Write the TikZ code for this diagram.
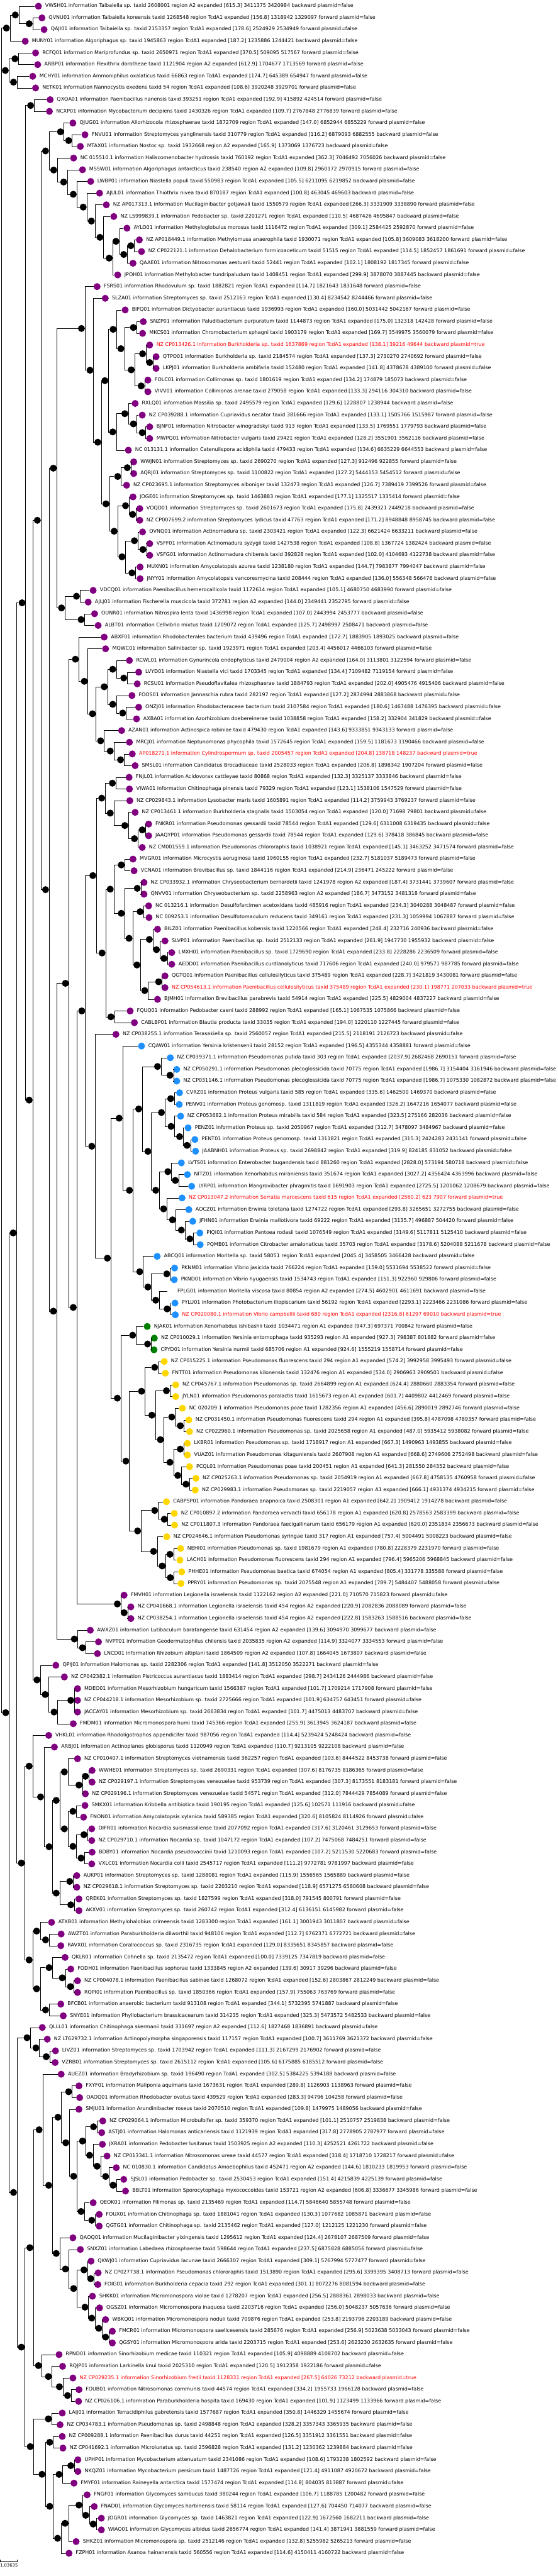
\documentclass[tikz,border=0pt]{standalone}
\usepackage{fontspec}
\setmainfont{DejaVu Sans}
\definecolor{tippurple}{RGB}{128,0,128}
\definecolor{tipblue}{RGB}{30,144,255}
\definecolor{tipgreen}{RGB}{0,128,0}
\definecolor{tipgold}{RGB}{255,215,0}
\definecolor{plasmidred}{RGB}{255,0,0}
% leaf: [label opts]{name}{x}{row}{dot colour}{text}
\newcommand{\leaf}[6][]{%
  \node[leafdot=#5] (#2) at (#3,#4) {};
  \node[leaflabel,#1] (#2t) at (#2.east) {#6};
}
% clade: [dot style]{name}{x}{first child}{last child}
\newcommand{\clade}[5][innerdot]{%
  \path (#4.center) -- coordinate[pos=.5] (#2m) (#5.center);
  \node[#1] (#2) at (#2m -| #3,0) {};
  \draw[branch] (#2.east) |- (#4.west);
  \draw[branch] (#2.east) |- (#5.west);
}

\begin{document}
\begin{tikzpicture}[x=0.05102cm, y=-1.677cm,
    leafdot/.style={circle, inner sep=0pt, minimum size=1cm, draw=none, fill=#1},
    innerdot/.style={circle, inner sep=0pt, minimum size=1cm, draw=none, fill=black},
    hiddendot/.style={circle, inner sep=0pt, minimum size=1cm, draw=none},
    leaflabel/.style={anchor=west, xshift=0.46cm, inner sep=0pt, text height=15pt, text depth=5pt,
      font=\fontsize{20.5pt}{24pt}\selectfont},
    plasmid/.style={text=plasmidred},
    branch/.style={draw=black, line width=1.4pt},
    scalelabel/.style={anchor=west, inner sep=0pt, font=\fontsize{17.6pt}{20pt}\selectfont}]
\useasboundingbox (0,0.4693) rectangle (1568,220.95);

% tips
\leaf{l1}{108}{1}{tippurple}{VWSH01 information Taibaiella sp. taxid 2608001 region A2 expanded [615.3] 3411375 3420984 backward plasmid=false}
\leaf{l2}{118}{2}{tippurple}{QVNU01 information Taibaiella koreensis taxid 1268548 region TcdA1 expanded [156.8] 1318942 1329097 forward plasmid=false}
\leaf{l3}{124}{3}{tippurple}{QAJI01 information Taibaiella sp. taxid 2153357 region TcdA1 expanded [178.6] 2524929 2534949 forward plasmid=false}
\leaf{l4}{71}{4}{tippurple}{MUNY01 information Algoriphagus sp. taxid 1945863 region TcdA1 expanded [187.2] 1235886 1244421 backward plasmid=false}
\leaf{l5}{100}{5}{tippurple}{RCFQ01 information Mariprofundus sp. taxid 2650971 region TcdA1 expanded [370.5] 509095 517567 forward plasmid=false}
\leaf{l6}{106}{6}{tippurple}{ARBP01 information Flexithrix dorotheae taxid 1121904 region A2 expanded [612.9] 1704677 1713569 forward plasmid=false}
\leaf{l7}{92}{7}{tippurple}{MCHY01 information Ammoniphilus oxalaticus taxid 66863 region TcdA1 expanded [174.7] 645389 654947 forward plasmid=false}
\leaf{l8}{100}{8}{tippurple}{NETK01 information Nannocystis exedens taxid 54 region TcdA1 expanded [108.6] 3920248 3929701 forward plasmid=false}
\leaf{l9}{141}{9}{tippurple}{QXQA01 information Paenibacillus nanensis taxid 393251 region TcdA1 expanded [192.9] 415892 424514 forward plasmid=false}
\leaf{l10}{139}{10}{tippurple}{NCXP01 information Mycobacterium decipiens taxid 1430326 region TcdA1 expanded [109.7] 2767848 2776839 forward plasmid=false}
\leaf{l11}{205}{11}{tippurple}{QJUG01 information Allorhizocola rhizosphaerae taxid 1872709 region TcdA1 expanded [147.0] 6852944 6855229 forward plasmid=false}
\leaf{l12}{239}{12}{tippurple}{FNVU01 information Streptomyces yanglinensis taxid 310779 region TcdA1 expanded [116.2] 6879093 6882555 backward plasmid=false}
\leaf{l13}{226}{13}{tippurple}{MTAX01 information Nostoc sp. taxid 1932668 region A2 expanded [165.9] 1373069 1376723 backward plasmid=false}
\leaf{l14}{207}{14}{tippurple}{NC 015510.1 information Haliscomenobacter hydrossis taxid 760192 region TcdA1 expanded [362.3] 7046492 7056026 backward plasmid=false}
\leaf{l15}{232}{15}{tippurple}{MSSW01 information Algoriphagus antarcticus taxid 238540 region A2 expanded [109.8] 2960172 2970915 forward plasmid=false}
\leaf{l16}{255}{16}{tippurple}{LWBP01 information Niastella populi taxid 550983 region TcdA1 expanded [105.5] 6211095 6219852 backward plasmid=false}
\leaf{l17}{280}{17}{tippurple}{AJUL01 information Thiothrix nivea taxid 870187 region TcdA1 expanded [100.8] 463045 469603 backward plasmid=false}
\leaf{l18}{299}{18}{tippurple}{NZ AP017313.1 information Mucilaginibacter gotjawali taxid 1550579 region TcdA1 expanded [266.3] 3331909 3338890 forward plasmid=false}
\leaf{l19}{320}{19}{tippurple}{NZ LS999839.1 information Pedobacter sp. taxid 2201271 region TcdA1 expanded [110.5] 4687426 4695847 backward plasmid=false}
\leaf{l20}{357}{20}{tippurple}{AYLO01 information Methyloglobulus morosus taxid 1116472 region TcdA1 expanded [309.1] 2584425 2592870 forward plasmid=false}
\leaf{l21}{392}{21}{tippurple}{NZ AP018449.1 information Methylomusa anaerophila taxid 1930071 region TcdA1 expanded [105.8] 3609083 3618200 forward plasmid=false}
\leaf{l22}{398}{22}{tippurple}{NZ CP022121.1 information Dehalobacterium formicoaceticum taxid 51515 region TcdA1 expanded [114.5] 1852457 1861691 forward plasmid=false}
\leaf{l23}{374}{23}{tippurple}{QAAE01 information Nitrosomonas aestuarii taxid 52441 region TcdA1 expanded [102.1] 1808192 1817345 forward plasmid=false}
\leaf{l24}{331}{24}{tippurple}{JPOH01 information Methylobacter tundripaludum taxid 1408451 region TcdA1 expanded [299.9] 3878070 3887445 backward plasmid=false}
\leaf{l25}{273}{25}{tippurple}{FSRS01 information Rhodovulum sp. taxid 1882821 region TcdA1 expanded [114.7] 1821643 1831648 forward plasmid=false}
\leaf{l26}{296}{26}{tippurple}{SLZA01 information Streptomyces sp. taxid 2512163 region TcdA1 expanded [130.4] 8234542 8244466 forward plasmid=false}
\leaf{l27}{352}{27}{tippurple}{BIFQ01 information Dictyobacter aurantiacus taxid 1936993 region TcdA1 expanded [160.0] 5031442 5042167 forward plasmid=false}
\leaf{l28}{403}{28}{tippurple}{SNZP01 information Paludibacterium purpuratum taxid 1144873 region TcdA1 expanded [175.0] 132318 142428 forward plasmid=false}
\leaf{l29}{401}{29}{tippurple}{MKCS01 information Chromobacterium sphagni taxid 1903179 region TcdA1 expanded [169.7] 3549975 3560079 forward plasmid=false}
\leaf[plasmid]{l30}{421}{30}{tippurple}{NZ CP013426.1 information Burkholderia sp. taxid 1637869 region TcdA1 expanded [138.1] 39216 49644 backward plasmid=true}
\leaf{l31}{439}{31}{tippurple}{QTPO01 information Burkholderia sp. taxid 2184574 region TcdA1 expanded [137.3] 2730270 2740692 forward plasmid=false}
\leaf{l32}{439}{32}{tippurple}{LKPJ01 information Burkholderia ambifaria taxid 152480 region TcdA1 expanded [141.8] 4378678 4389100 forward plasmid=false}
\leaf{l33}{416}{33}{tippurple}{FOLC01 information Collimonas sp. taxid 1801619 region TcdA1 expanded [134.2] 174879 185073 backward plasmid=false}
\leaf{l34}{416}{34}{tippurple}{VIVV01 information Collimonas arenae taxid 279058 region TcdA1 expanded [133.3] 294116 304310 backward plasmid=false}
\leaf{l35}{380}{35}{tippurple}{RXLQ01 information Massilia sp. taxid 2495579 region TcdA1 expanded [129.6] 1228807 1238944 backward plasmid=false}
\leaf{l36}{400}{36}{tippurple}{NZ CP039288.1 information Cupriavidus necator taxid 381666 region TcdA1 expanded [133.1] 1505766 1515987 forward plasmid=false}
\leaf{l37}{421}{37}{tippurple}{BJNF01 information Nitrobacter winogradskyi taxid 913 region TcdA1 expanded [133.5] 1769551 1779793 backward plasmid=false}
\leaf{l38}{421}{38}{tippurple}{MWPQ01 information Nitrobacter vulgaris taxid 29421 region TcdA1 expanded [128.2] 3551901 3562116 backward plasmid=false}
\leaf{l39}{361}{39}{tippurple}{NC 013131.1 information Catenulispora acidiphila taxid 479433 region TcdA1 expanded [134.6] 6635229 6644553 backward plasmid=false}
\leaf{l40}{376}{40}{tippurple}{WWJN01 information Streptomyces sp. taxid 2690270 region TcdA1 expanded [127.3] 912496 922855 forward plasmid=false}
\leaf{l41}{376}{41}{tippurple}{AQRJ01 information Streptomyces sp. taxid 1100822 region TcdA1 expanded [127.2] 5444153 5454512 forward plasmid=false}
\leaf{l42}{356}{42}{tippurple}{NZ CP023695.1 information Streptomyces alboniger taxid 132473 region TcdA1 expanded [126.7] 7389419 7399526 forward plasmid=false}
\leaf{l43}{374}{43}{tippurple}{JOGE01 information Streptomyces sp. taxid 1463883 region TcdA1 expanded [177.1] 1325517 1335414 forward plasmid=false}
\leaf{l44}{393}{44}{tippurple}{VOQD01 information Streptomyces sp. taxid 2601673 region TcdA1 expanded [175.8] 2439321 2449218 backward plasmid=false}
\leaf{l45}{393}{45}{tippurple}{NZ CP007699.2 information Streptomyces lydicus taxid 47763 region TcdA1 expanded [171.2] 8948848 8958745 backward plasmid=false}
\leaf{l46}{401}{46}{tippurple}{QVNQ01 information Actinomadura sp. taxid 2303421 region TcdA1 expanded [122.3] 6621424 6633211 backward plasmid=false}
\leaf{l47}{421}{47}{tippurple}{VSFF01 information Actinomadura syzygii taxid 1427538 region TcdA1 expanded [108.8] 1367724 1382424 backward plasmid=false}
\leaf{l48}{421}{48}{tippurple}{VSFG01 information Actinomadura chibensis taxid 392828 region TcdA1 expanded [102.0] 4104693 4122738 backward plasmid=false}
\leaf{l49}{394}{49}{tippurple}{MUXN01 information Amycolatopsis azurea taxid 1238180 region TcdA1 expanded [144.7] 7983877 7994047 backward plasmid=false}
\leaf{l50}{394}{50}{tippurple}{JNYY01 information Amycolatopsis vancoresmycina taxid 208444 region TcdA1 expanded [136.0] 556348 566476 backward plasmid=false}
\leaf{l51}{262}{51}{tippurple}{VDCQ01 information Paenibacillus hemerocallicola taxid 1172614 region TcdA1 expanded [105.1] 4680750 4683990 forward plasmid=false}
\leaf{l52}{248}{52}{tippurple}{AJLJ01 information Fischerella muscicola taxid 372781 region A2 expanded [144.0] 2349441 2352795 forward plasmid=false}
\leaf{l53}{266}{53}{tippurple}{OUNR01 information Nitrospira lenta taxid 1436998 region TcdA1 expanded [107.0] 2443994 2453777 backward plasmid=false}
\leaf{l54}{276}{54}{tippurple}{ALBT01 information Cellvibrio mixtus taxid 1209072 region TcdA1 expanded [125.7] 2498997 2508471 backward plasmid=false}
\leaf{l55}{293}{55}{tippurple}{ABXF01 information Rhodobacterales bacterium taxid 439496 region TcdA1 expanded [172.7] 1883905 1893025 backward plasmid=false}
\leaf{l56}{297}{56}{tippurple}{MQWC01 information Salinibacter sp. taxid 1923971 region TcdA1 expanded [203.4] 4456017 4466103 forward plasmid=false}
\leaf{l57}{364}{57}{tippurple}{RCWL01 information Gynurincola endophyticus taxid 2479004 region A2 expanded [164.0] 3113801 3122594 forward plasmid=false}
\leaf{l58}{390}{58}{tippurple}{LVYD01 information Niastella vici taxid 1703345 region TcdA1 expanded [134.4] 7109482 7119154 forward plasmid=false}
\leaf{l59}{386}{59}{tippurple}{RCSU01 information Pseudoflavitalea rhizosphaerae taxid 1884793 region TcdA1 expanded [202.0] 4905476 4915406 backward plasmid=false}
\leaf{l60}{371}{60}{tippurple}{FOOS01 information Jannaschia rubra taxid 282197 region TcdA1 expanded [127.2] 2874994 2883868 backward plasmid=false}
\leaf{l61}{390}{61}{tippurple}{ONZJ01 information Rhodobacteraceae bacterium taxid 2107584 region TcdA1 expanded [180.6] 1467488 1476395 backward plasmid=false}
\leaf{l62}{384}{62}{tippurple}{AXBA01 information Azorhizobium doebereinerae taxid 1038858 region TcdA1 expanded [158.2] 332904 341829 backward plasmid=false}
\leaf{l63}{342}{63}{tippurple}{AZAN01 information Actinospica robiniae taxid 479430 region TcdA1 expanded [143.6] 9333851 9343133 forward plasmid=false}
\leaf{l64}{364}{64}{tippurple}{MRCJ01 information Neptunomonas phycophila taxid 1572645 region TcdA1 expanded [159.5] 1181673 1190466 backward plasmid=false}
\leaf[plasmid]{l65}{372}{65}{tippurple}{AP018271.1 information Cylindrospermum sp. taxid 2005457 region TcdA1 expanded [204.8] 138718 148237 backward plasmid=true}
\leaf{l66}{380}{66}{tippurple}{SMSL01 information Candidatus Brocadiaceae taxid 2528033 region TcdA1 expanded [206.8] 1898342 1907204 forward plasmid=false}
\leaf{l67}{363}{67}{tippurple}{FNJL01 information Acidovorax cattleyae taxid 80868 region TcdA1 expanded [132.3] 3325137 3333846 backward plasmid=false}
\leaf{l68}{364}{68}{tippurple}{VIWA01 information Chitinophaga pinensis taxid 79329 region TcdA1 expanded [123.1] 1538106 1547529 forward plasmid=false}
\leaf{l69}{365}{69}{tippurple}{NZ CP029843.1 information Lysobacter maris taxid 1605891 region TcdA1 expanded [114.2] 3759943 3769237 forward plasmid=false}
\leaf{l70}{380}{70}{tippurple}{NZ CP013461.1 information Burkholderia stagnalis taxid 1503054 region TcdA1 expanded [120.0] 71698 79801 backward plasmid=false}
\leaf{l71}{418}{71}{tippurple}{FNKR01 information Pseudomonas gessardii taxid 78544 region TcdA1 expanded [129.6] 6311008 6319435 backward plasmid=false}
\leaf{l72}{418}{72}{tippurple}{JAAQYP01 information Pseudomonas gessardii taxid 78544 region TcdA1 expanded [129.6] 378418 386845 backward plasmid=false}
\leaf{l73}{400}{73}{tippurple}{NZ CM001559.1 information Pseudomonas chlororaphis taxid 1038921 region TcdA1 expanded [145.1] 3463252 3471574 forward plasmid=false}
\leaf{l74}{374}{74}{tippurple}{MVGR01 information Microcystis aeruginosa taxid 1960155 region TcdA1 expanded [232.7] 5181037 5189473 forward plasmid=false}
\leaf{l75}{377}{75}{tippurple}{VCNA01 information Brevibacillus sp. taxid 1844116 region TcdA1 expanded [214.9] 236471 245222 forward plasmid=false}
\leaf{l76}{405}{76}{tippurple}{NZ CP033932.1 information Chryseobacterium bernardetii taxid 1241978 region A2 expanded [187.4] 3731441 3739607 forward plasmid=false}
\leaf{l77}{405}{77}{tippurple}{QNVV01 information Chryseobacterium sp. taxid 2258963 region A2 expanded [186.7] 3473152 3481318 forward plasmid=false}
\leaf{l78}{418}{78}{tippurple}{NC 013216.1 information Desulfofarcimen acetoxidans taxid 485916 region TcdA1 expanded [234.3] 3040288 3048487 forward plasmid=false}
\leaf{l79}{419}{79}{tippurple}{NC 009253.1 information Desulfotomaculum reducens taxid 349161 region TcdA1 expanded [231.3] 1059994 1067887 forward plasmid=false}
\leaf{l80}{443}{80}{tippurple}{BILZ01 information Paenibacillus kobensis taxid 1220566 region TcdA1 expanded [248.4] 232716 240936 backward plasmid=false}
\leaf{l81}{464}{81}{tippurple}{SLVP01 information Paenibacillus sp. taxid 2512133 region TcdA1 expanded [261.9] 1947730 1955932 backward plasmid=false}
\leaf{l82}{483}{82}{tippurple}{LMXH01 information Paenibacillus sp. taxid 1729690 region TcdA1 expanded [233.8] 2228286 2236509 forward plasmid=false}
\leaf{l83}{483}{83}{tippurple}{AEDD01 information Paenibacillus curdlanolyticus taxid 717606 region TcdA1 expanded [240.0] 979571 987785 forward plasmid=false}
\leaf{l84}{464}{84}{tippurple}{QGTQ01 information Paenibacillus cellulosilyticus taxid 375489 region TcdA1 expanded [228.7] 3421819 3430081 forward plasmid=false}
\leaf[plasmid]{l85}{464}{85}{tippurple}{NZ CP054613.1 information Paenibacillus cellulosilyticus taxid 375489 region TcdA1 expanded [230.1] 198771 207033 backward plasmid=true}
\leaf{l86}{443}{86}{tippurple}{BJMH01 information Brevibacillus parabrevis taxid 54914 region TcdA1 expanded [225.5] 4829004 4837227 backward plasmid=false}
\leaf{l87}{366}{87}{tippurple}{FQUQ01 information Pedobacter caeni taxid 288992 region TcdA1 expanded [165.1] 1067535 1075866 backward plasmid=false}
\leaf{l88}{378}{88}{tippurple}{CABLBP01 information Blautia producta taxid 33035 region TcdA1 expanded [194.0] 1220110 1227445 forward plasmid=false}
\leaf{l89}{326}{89}{tippurple}{NZ CP038255.1 information Terasakiella sp. taxid 2560057 region TcdA1 expanded [215.5] 2118191 2126723 backward plasmid=false}
\leaf{l90}{398}{90}{tipblue}{CQAW01 information Yersinia kristensenii taxid 28152 region TcdA1 expanded [196.5] 4355344 4358881 forward plasmid=false}
\leaf{l91}{479}{91}{tipblue}{NZ CP039371.1 information Pseudomonas putida taxid 303 region TcdA1 expanded [2037.9] 2682468 2690151 forward plasmid=false}
\leaf{l92}{497}{92}{tipblue}{NZ CP050291.1 information Pseudomonas plecoglossicida taxid 70775 region TcdA1 expanded [1986.7] 3154404 3161946 backward plasmid=false}
\leaf{l93}{497}{93}{tipblue}{NZ CP031146.1 information Pseudomonas plecoglossicida taxid 70775 region TcdA1 expanded [1986.7] 1075330 1082872 backward plasmid=false}
\leaf{l94}{505}{94}{tipblue}{CVRZ01 information Proteus vulgaris taxid 585 region TcdA1 expanded [335.6] 1462500 1469370 backward plasmid=false}
\leaf{l95}{504}{95}{tipblue}{PENV01 information Proteus genomosp. taxid 1311819 region TcdA1 expanded [326.2] 1647216 1654077 backward plasmid=false}
\leaf{l96}{508}{96}{tipblue}{NZ CP053682.1 information Proteus mirabilis taxid 584 region TcdA1 expanded [323.5] 275166 282036 backward plasmid=false}
\leaf{l97}{529}{97}{tipblue}{PENZ01 information Proteus sp. taxid 2050967 region TcdA1 expanded [312.7] 3478097 3484967 backward plasmid=false}
\leaf{l98}{548}{98}{tipblue}{PENT01 information Proteus genomosp. taxid 1311821 region TcdA1 expanded [315.3] 2424283 2431141 forward plasmid=false}
\leaf{l99}{550}{99}{tipblue}{JAABNH01 information Proteus sp. taxid 2698842 region TcdA1 expanded [319.9] 824185 831052 backward plasmid=false}
\leaf{l100}{510}{100}{tipblue}{LVTS01 information Enterobacter bugandensis taxid 881260 region TcdA1 expanded [2828.0] 573194 580718 backward plasmid=false}
\leaf{l101}{527}{101}{tipblue}{NITZ01 information Xenorhabdus miraniensis taxid 351674 region TcdA1 expanded [3027.2] 4356424 4363996 backward plasmid=false}
\leaf{l102}{539}{102}{tipblue}{LYRP01 information Mangrovibacter phragmitis taxid 1691903 region TcdA1 expanded [2725.5] 1201062 1208679 backward plasmid=false}
\leaf[plasmid]{l103}{512}{103}{tipblue}{NZ CP013047.2 information Serratia marcescens taxid 615 region TcdA1 expanded [2560.2] 623 7907 forward plasmid=true}
\leaf{l104}{531}{104}{tipblue}{AOCZ01 information Erwinia toletana taxid 1274722 region TcdA1 expanded [293.8] 3265651 3272755 backward plasmid=false}
\leaf{l105}{542}{105}{tipblue}{JFHN01 information Erwinia mallotivora taxid 69222 region TcdA1 expanded [3135.7] 496887 504420 forward plasmid=false}
\leaf{l106}{562}{106}{tipblue}{PIQI01 information Pantoea rodasii taxid 1076549 region TcdA1 expanded [3149.6] 5117811 5125410 backward plasmid=false}
\leaf{l107}{563}{107}{tipblue}{PQMB01 information Citrobacter amalonaticus taxid 35703 region TcdA1 expanded [3178.6] 5204088 5211678 backward plasmid=false}
\leaf{l108}{442}{108}{tipblue}{ABCQ01 information Moritella sp. taxid 58051 region TcdA1 expanded [2045.4] 3458505 3466428 backward plasmid=false}
\leaf{l109}{491}{109}{tipblue}{PKNM01 information Vibrio jasicida taxid 766224 region TcdA1 expanded [159.0] 5531694 5538522 forward plasmid=false}
\leaf{l110}{490}{110}{tipblue}{PKND01 information Vibrio hyugaensis taxid 1534743 region TcdA1 expanded [151.3] 922960 929806 forward plasmid=false}
\leaf{l111}{480}{111}{none}{FPLG01 information Moritella viscosa taxid 80854 region A2 expanded [274.5] 4602901 4611691 backward plasmid=false}
\leaf{l112}{492}{112}{tipblue}{PYLU01 information Photobacterium iliopiscarium taxid 56192 region TcdA1 expanded [2293.1] 2223466 2231086 forward plasmid=false}
\leaf[plasmid]{l113}{493}{113}{tipblue}{NZ CP020080.1 information Vibrio campbellii taxid 680 region TcdA1 expanded [2316.8] 61297 69010 backward plasmid=true}
\leaf{l114}{414}{114}{tipgreen}{NJAK01 information Xenorhabdus ishibashii taxid 1034471 region A1 expanded [947.3] 697371 700842 forward plasmid=false}
\leaf{l115}{434}{115}{tipgreen}{NZ CP010029.1 information Yersinia entomophaga taxid 935293 region A1 expanded [927.3] 798387 801882 forward plasmid=false}
\leaf{l116}{433}{116}{tipgreen}{CPYD01 information Yersinia nurmii taxid 685706 region A1 expanded [924.6] 1555219 1558714 forward plasmid=false}
\leaf{l117}{462}{117}{tipgold}{NZ CP015225.1 information Pseudomonas fluorescens taxid 294 region A1 expanded [574.2] 3992958 3995493 forward plasmid=false}
\leaf{l118}{465}{118}{tipgold}{FNTT01 information Pseudomonas kilonensis taxid 132476 region A1 expanded [534.0] 2906963 2909501 backward plasmid=false}
\leaf{l119}{494}{119}{tipgold}{NZ CP045767.1 information Pseudomonas sp. taxid 2664899 region A1 expanded [624.4] 2880660 2883354 forward plasmid=false}
\leaf{l120}{494}{120}{tipgold}{JYLN01 information Pseudomonas paralactis taxid 1615673 region A1 expanded [601.7] 4409802 4412469 forward plasmid=false}
\leaf{l121}{513}{121}{tipgold}{NC 020209.1 information Pseudomonas poae taxid 1282356 region A1 expanded [456.6] 2890019 2892746 forward plasmid=false}
\leaf{l122}{531}{122}{tipgold}{NZ CP031450.1 information Pseudomonas fluorescens taxid 294 region A1 expanded [395.8] 4787098 4789357 forward plasmid=false}
\leaf{l123}{533}{123}{tipgold}{NZ CP022960.1 information Pseudomonas sp. taxid 2025658 region A1 expanded [487.0] 5935412 5938082 forward plasmid=false}
\leaf{l124}{527}{124}{tipgold}{LKBR01 information Pseudomonas sp. taxid 1718917 region A1 expanded [667.3] 1490963 1493855 backward plasmid=false}
\leaf{l125}{527}{125}{tipgold}{VUAZ01 information Pseudomonas kitaguniensis taxid 2607908 region A1 expanded [668.6] 2749606 2752498 backward plasmid=false}
\leaf{l126}{533}{126}{tipgold}{PCQL01 information Pseudomonas poae taxid 200451 region A1 expanded [641.3] 281550 284352 backward plasmid=false}
\leaf{l127}{551}{127}{tipgold}{NZ CP025263.1 information Pseudomonas sp. taxid 2054919 region A1 expanded [667.8] 4758135 4760958 forward plasmid=false}
\leaf{l128}{549}{128}{tipgold}{NZ CP029983.1 information Pseudomonas sp. taxid 2219057 region A1 expanded [666.1] 4931374 4934215 forward plasmid=false}
\leaf{l129}{468}{129}{tipgold}{CABPSP01 information Pandoraea anapnoica taxid 2508301 region A1 expanded [642.2] 1909412 1914278 backward plasmid=false}
\leaf{l130}{490}{130}{tipgold}{NZ CP010897.2 information Pandoraea vervacti taxid 656178 region A1 expanded [620.8] 2578563 2583399 backward plasmid=false}
\leaf{l131}{491}{131}{tipgold}{NZ CP011807.3 information Pandoraea faecigallinarum taxid 656179 region A1 expanded [620.0] 2351834 2356673 backward plasmid=false}
\leaf{l132}{469}{132}{tipgold}{NZ CP024646.1 information Pseudomonas syringae taxid 317 region A1 expanded [757.4] 5004491 5008223 backward plasmid=false}
\leaf{l133}{508}{133}{tipgold}{NEHI01 information Pseudomonas sp. taxid 1981679 region A1 expanded [780.8] 2228379 2231970 forward plasmid=false}
\leaf{l134}{506}{134}{tipgold}{LACH01 information Pseudomonas fluorescens taxid 294 region A1 expanded [796.4] 5965206 5968845 backward plasmid=false}
\leaf{l135}{511}{135}{tipgold}{PHHE01 information Pseudomonas baetica taxid 674054 region A1 expanded [805.4] 331778 335588 forward plasmid=false}
\leaf{l136}{509}{136}{tipgold}{PPRY01 information Pseudomonas sp. taxid 2075548 region A1 expanded [789.7] 5484407 5488058 forward plasmid=false}
\leaf{l137}{349}{137}{tippurple}{FMVH01 information Legionella israelensis taxid 1122162 region A2 expanded [221.0] 710570 715823 forward plasmid=false}
\leaf{l138}{368}{138}{tippurple}{NZ CP041668.1 information Legionella israelensis taxid 454 region A2 expanded [220.9] 2082836 2088089 forward plasmid=false}
\leaf{l139}{368}{139}{tippurple}{NZ CP038254.1 information Legionella israelensis taxid 454 region A2 expanded [222.8] 1583263 1588516 backward plasmid=false}
\leaf{l140}{254}{140}{tippurple}{AWXZ01 information Lutibaculum baratangense taxid 631454 region A2 expanded [139.6] 3094970 3099677 backward plasmid=false}
\leaf{l141}{277}{141}{tippurple}{NVPT01 information Geodermatophilus chilensis taxid 2035835 region A2 expanded [114.9] 3324077 3334553 forward plasmid=false}
\leaf{l142}{274}{142}{tippurple}{LNCD01 information Rhizobium altiplani taxid 1864509 region A2 expanded [107.8] 1664045 1673807 backward plasmid=false}
\leaf{l143}{157}{143}{tippurple}{QPIJ01 information Halomonas sp. taxid 2282306 region TcdA1 expanded [141.8] 3512050 3522271 backward plasmid=false}
\leaf{l144}{181}{144}{tippurple}{NZ CP042382.1 information Pistricoccus aurantiacus taxid 1883414 region TcdA1 expanded [298.7] 2434126 2444986 backward plasmid=false}
\leaf{l145}{218}{145}{tippurple}{MDEO01 information Mesorhizobium hungaricum taxid 1566387 region TcdA1 expanded [101.7] 1709214 1717908 forward plasmid=false}
\leaf{l146}{218}{146}{tippurple}{NZ CP044218.1 information Mesorhizobium sp. taxid 2725666 region TcdA1 expanded [101.9] 634757 643451 forward plasmid=false}
\leaf{l147}{218}{147}{tippurple}{JACCAY01 information Mesorhizobium sp. taxid 2663834 region TcdA1 expanded [101.7] 4475013 4483707 backward plasmid=false}
\leaf{l148}{206}{148}{tippurple}{FMDM01 information Micromonospora humi taxid 745366 region TcdA1 expanded [255.9] 3613945 3624187 backward plasmid=false}
\leaf{l149}{137}{149}{tippurple}{VHKL01 information Rhodoligotrophos appendicifer taxid 987056 region TcdA1 expanded [114.4] 5239424 5248424 backward plasmid=false}
\leaf{l150}{153}{150}{tippurple}{ARBJ01 information Actinoplanes globisporus taxid 1120949 region TcdA1 expanded [110.7] 9213105 9222108 backward plasmid=false}
\leaf{l151}{218}{151}{tippurple}{NZ CP010407.1 information Streptomyces vietnamensis taxid 362257 region TcdA1 expanded [103.6] 8444522 8453738 forward plasmid=false}
\leaf{l152}{259}{152}{tippurple}{WWHE01 information Streptomyces sp. taxid 2690331 region TcdA1 expanded [307.6] 8176735 8186365 forward plasmid=false}
\leaf{l153}{259}{153}{tippurple}{NZ CP029197.1 information Streptomyces venezuelae taxid 953739 region TcdA1 expanded [307.3] 8173551 8183181 forward plasmid=false}
\leaf{l154}{240}{154}{tippurple}{NZ CP029196.1 information Streptomyces venezuelae taxid 54571 region TcdA1 expanded [312.0] 7844429 7854089 forward plasmid=false}
\leaf{l155}{239}{155}{tippurple}{SMKX01 information Kribbella antibiotica taxid 190195 region TcdA1 expanded [125.6] 102571 111916 backward plasmid=false}
\leaf{l156}{235}{156}{tippurple}{FNON01 information Amycolatopsis xylanica taxid 589385 region TcdA1 expanded [320.6] 8105824 8114926 forward plasmid=false}
\leaf{l157}{258}{157}{tippurple}{OIFR01 information Nocardia suismassiliense taxid 2077092 region TcdA1 expanded [317.6] 3120461 3129653 forward plasmid=false}
\leaf{l158}{258}{158}{tippurple}{NZ CP029710.1 information Nocardia sp. taxid 1047172 region TcdA1 expanded [107.2] 7475068 7484251 forward plasmid=false}
\leaf{l159}{259}{159}{tippurple}{BDBY01 information Nocardia pseudovaccinii taxid 1210093 region TcdA1 expanded [107.2] 5211530 5220683 forward plasmid=false}
\leaf{l160}{258}{160}{tippurple}{VXLC01 information Nocardia colli taxid 2545717 region TcdA1 expanded [111.2] 9772781 9781997 backward plasmid=false}
\leaf{l161}{216}{161}{tippurple}{AUKP01 information Streptomyces sp. taxid 1288081 region TcdA1 expanded [115.9] 1556565 1565889 backward plasmid=false}
\leaf{l162}{216}{162}{tippurple}{NZ CP029618.1 information Streptomyces sp. taxid 2203210 region TcdA1 expanded [118.9] 6571275 6580608 backward plasmid=false}
\leaf{l163}{222}{163}{tippurple}{QREK01 information Streptomyces sp. taxid 1827599 region TcdA1 expanded [318.0] 791545 800791 forward plasmid=false}
\leaf{l164}{222}{164}{tippurple}{AKXV01 information Streptomyces sp. taxid 260742 region TcdA1 expanded [312.4] 6136151 6145982 forward plasmid=false}
\leaf{l165}{145}{165}{tippurple}{ATXB01 information Methylohalobius crimeensis taxid 1283300 region TcdA1 expanded [161.1] 3001943 3011807 backward plasmid=false}
\leaf{l166}{172}{166}{tippurple}{AWZT01 information Paraburkholderia dilworthii taxid 948106 region TcdA1 expanded [112.7] 6762371 6772721 backward plasmid=false}
\leaf{l167}{171}{167}{tippurple}{RAVX01 information Corallococcus sp. taxid 2316735 region TcdA1 expanded [129.0] 8335651 8345857 backward plasmid=false}
\leaf{l168}{183}{168}{tippurple}{QKLR01 information Cohnella sp. taxid 2135472 region TcdA1 expanded [100.0] 7339125 7347819 backward plasmid=false}
\leaf{l169}{199}{169}{tippurple}{FODH01 information Paenibacillus sophorae taxid 1333845 region A2 expanded [139.6] 30917 39296 backward plasmid=false}
\leaf{l170}{218}{170}{tippurple}{NZ CP004078.1 information Paenibacillus sabinae taxid 1268072 region TcdA1 expanded [152.6] 2803867 2812249 backward plasmid=false}
\leaf{l171}{218}{171}{tippurple}{RQPI01 information Paenibacillus sp. taxid 1850366 region TcdA1 expanded [157.9] 755063 763769 forward plasmid=false}
\leaf{l172}{171}{172}{tippurple}{BFCB01 information anaerobic bacterium taxid 913108 region TcdA1 expanded [344.1] 5732395 5741887 backward plasmid=false}
\leaf{l173}{178}{173}{tippurple}{SNYE01 information Phyllobacterium brassicacearum taxid 314235 region TcdA1 expanded [325.3] 5473572 5482533 backward plasmid=false}
\leaf{l174}{119}{174}{tippurple}{QLLL01 information Chitinophaga skermanii taxid 331697 region A2 expanded [112.6] 1827468 1836891 backward plasmid=false}
\leaf{l175}{133}{175}{tippurple}{NZ LT629732.1 information Actinopolymorpha singaporensis taxid 117157 region TcdA1 expanded [100.7] 3611769 3621372 backward plasmid=false}
\leaf{l176}{156}{176}{tippurple}{LIVZ01 information Streptomyces sp. taxid 1703942 region TcdA1 expanded [111.3] 2167299 2176902 forward plasmid=false}
\leaf{l177}{155}{177}{tippurple}{VZRB01 information Streptomyces sp. taxid 2615112 region TcdA1 expanded [105.6] 6175885 6185512 forward plasmid=false}
\leaf{l178}{172}{178}{tippurple}{AUEZ01 information Bradyrhizobium sp. taxid 196490 region TcdA1 expanded [302.5] 5384225 5394188 backward plasmid=false}
\leaf{l179}{222}{179}{tippurple}{FXYF01 information Maliponia aquimaris taxid 1673631 region TcdA1 expanded [289.8] 1126903 1138963 forward plasmid=false}
\leaf{l180}{224}{180}{tippurple}{OAOQ01 information Rhodobacter ovatus taxid 439529 region TcdA1 expanded [283.3] 94796 104258 forward plasmid=false}
\leaf{l181}{222}{181}{tippurple}{SMJU01 information Arundinibacter roseus taxid 2070510 region TcdA1 expanded [109.8] 1479975 1489056 backward plasmid=false}
\leaf{l182}{289}{182}{tippurple}{NZ CP029064.1 information Microbulbifer sp. taxid 359370 region TcdA1 expanded [101.1] 2510757 2519838 backward plasmid=false}
\leaf{l183}{286}{183}{tippurple}{ASTJ01 information Halomonas anticariensis taxid 1121939 region TcdA1 expanded [317.8] 2778905 2787977 forward plasmid=false}
\leaf{l184}{288}{184}{tippurple}{JXRA01 information Pedobacter lusitanus taxid 1503925 region A2 expanded [110.3] 4252521 4261722 backward plasmid=false}
\leaf{l185}{301}{185}{tippurple}{NZ CP013341.1 information Nitrosomonas ureae taxid 44577 region TcdA1 expanded [318.4] 1718710 1728217 forward plasmid=false}
\leaf{l186}{327}{186}{tippurple}{NC 010830.1 information Candidatus Amoebophilus taxid 452471 region A2 expanded [144.6] 1810233 1819953 forward plasmid=false}
\leaf{l187}{348}{187}{tippurple}{SJSL01 information Pedobacter sp. taxid 2530453 region TcdA1 expanded [151.4] 4215839 4225139 forward plasmid=false}
\leaf{l188}{353}{188}{tippurple}{BBLT01 information Sporocytophaga myxococcoides taxid 153721 region A2 expanded [606.8] 3336677 3345986 forward plasmid=false}
\leaf{l189}{262}{189}{tippurple}{QEOK01 information Filimonas sp. taxid 2135469 region TcdA1 expanded [114.7] 5846640 5855748 forward plasmid=false}
\leaf{l190}{279}{190}{tippurple}{FOUX01 information Chitinophaga sp. taxid 1881041 region TcdA1 expanded [130.3] 1077682 1085871 backward plasmid=false}
\leaf{l191}{279}{191}{tippurple}{QGTG01 information Chitinophaga sp. taxid 2135462 region TcdA1 expanded [127.0] 1212125 1221230 forward plasmid=false}
\leaf{l192}{205}{192}{tippurple}{QAOQ01 information Mucilaginibacter yixingensis taxid 1295612 region TcdA1 expanded [124.4] 2678107 2687509 forward plasmid=false}
\leaf{l193}{226}{193}{tippurple}{SNXZ01 information Labedaea rhizosphaerae taxid 598644 region TcdA1 expanded [237.5] 6875828 6885056 forward plasmid=false}
\leaf{l194}{256}{194}{tippurple}{QKWJ01 information Cupriavidus lacunae taxid 2666307 region TcdA1 expanded [309.1] 5767994 5777477 forward plasmid=false}
\leaf{l195}{276}{195}{tippurple}{NZ CP027738.1 information Pseudomonas chlororaphis taxid 1513890 region TcdA1 expanded [295.6] 3399395 3408713 forward plasmid=false}
\leaf{l196}{275}{196}{tippurple}{FOIG01 information Burkholderia cepacia taxid 292 region TcdA1 expanded [301.1] 8072276 8081594 backward plasmid=false}
\leaf{l197}{260}{197}{tippurple}{SHKK01 information Micromonospora violae taxid 1278207 region TcdA1 expanded [256.5] 2888361 2898033 backward plasmid=false}
\leaf{l198}{280}{198}{tippurple}{QGSZ01 information Micromonospora inaquosa taxid 2203716 region TcdA1 expanded [256.0] 5048237 5057636 forward plasmid=false}
\leaf{l199}{297}{199}{tippurple}{WBKQ01 information Micromonospora noduli taxid 709876 region TcdA1 expanded [253.8] 2193796 2203189 backward plasmid=false}
\leaf{l200}{316}{200}{tippurple}{FMCR01 information Micromonospora saelicesensis taxid 285676 region TcdA1 expanded [256.9] 5023638 5033043 forward plasmid=false}
\leaf{l201}{316}{201}{tippurple}{QGSY01 information Micromonospora arida taxid 2203715 region TcdA1 expanded [253.6] 2623230 2632635 forward plasmid=false}
\leaf{l202}{166}{202}{tippurple}{RPND01 information Sinorhizobium medicae taxid 110321 region TcdA1 expanded [105.9] 4098889 4108702 backward plasmid=false}
\leaf{l203}{176}{203}{tippurple}{RQJP01 information Larkinella knui taxid 2025310 region TcdA1 expanded [120.5] 1912358 1922186 forward plasmid=false}
\leaf[plasmid]{l204}{205}{204}{tippurple}{NZ CP029235.1 information Sinorhizobium fredii taxid 1128331 region TcdA1 expanded [267.5] 64026 73212 backward plasmid=true}
\leaf{l205}{222}{205}{tippurple}{FOUB01 information Nitrosomonas communis taxid 44574 region TcdA1 expanded [334.2] 1955733 1966128 backward plasmid=false}
\leaf{l206}{221}{206}{tippurple}{NZ CP026106.1 information Paraburkholderia hospita taxid 169430 region TcdA1 expanded [101.9] 1123499 1133966 forward plasmid=false}
\leaf{l207}{175}{207}{tippurple}{LAIJ01 information Terracidiphilus gabretensis taxid 1577687 region TcdA1 expanded [350.8] 1446329 1455674 forward plasmid=false}
\leaf{l208}{169}{208}{tippurple}{NZ CP034783.1 information Pseudomonas sp. taxid 2498848 region TcdA1 expanded [328.2] 3357343 3365935 backward plasmid=false}
\leaf{l209}{175}{209}{tippurple}{NZ CP009288.1 information Paenibacillus durus taxid 44251 region TcdA1 expanded [126.5] 3351912 3361551 backward plasmid=false}
\leaf{l210}{177}{210}{tippurple}{NZ CP041692.1 information Microlunatus sp. taxid 2596828 region TcdA1 expanded [131.2] 1230362 1239884 backward plasmid=false}
\leaf{l211}{219}{211}{tippurple}{UPHP01 information Mycobacterium attenuatum taxid 2341086 region TcdA1 expanded [108.6] 1793238 1802592 backward plasmid=false}
\leaf{l212}{219}{212}{tippurple}{NKQZ01 information Mycobacterium persicum taxid 1487726 region TcdA1 expanded [121.4] 4911087 4920672 backward plasmid=false}
\leaf{l213}{208}{213}{tippurple}{FMYF01 information Raineyella antarctica taxid 1577474 region TcdA1 expanded [114.8] 804035 813887 forward plasmid=false}
\leaf{l214}{245}{214}{tippurple}{FNGF01 information Glycomyces sambucus taxid 380244 region TcdA1 expanded [106.7] 1188785 1200482 forward plasmid=false}
\leaf{l215}{265}{215}{tippurple}{FNAD01 information Glycomyces harbinensis taxid 58114 region TcdA1 expanded [127.6] 704450 714077 backward plasmid=false}
\leaf{l216}{285}{216}{tippurple}{JOGR01 information Glycomyces sp. taxid 1463821 region TcdA1 expanded [122.9] 1672560 1682211 backward plasmid=false}
\leaf{l217}{285}{217}{tippurple}{WIAO01 information Glycomyces albidus taxid 2656774 region TcdA1 expanded [141.4] 3871941 3881559 forward plasmid=false}
\leaf{l218}{214}{218}{tippurple}{SHKZ01 information Micromonospora sp. taxid 2512146 region TcdA1 expanded [132.8] 5255982 5265213 forward plasmid=false}
\leaf{l219}{194}{219}{tippurple}{FZPH01 information Asanoa hainanensis taxid 560556 region TcdA1 expanded [114.6] 4150411 4160722 backward plasmid=false}

% top clades
\clade{A2}{82}{l2}{l3}
\clade{A1}{43}{l1}{A2}
\clade{Na}{18}{A1}{l4}
\clade{B1}{42}{l5}{l6}
\clade{B2}{38}{l7}{l8}
\clade{Nb}{15}{B1}{B2}
\clade{C1}{86}{l9}{l10}
\clade{D2}{193}{l12}{l13}
\clade{D1}{170}{l11}{D2}
\clade{X6}{368}{l21}{l22}
\clade{X5}{348}{X6}{l23}
\clade{X4}{326}{l20}{X5}
\clade{X3}{307}{X4}{l24}
\clade{X2}{281}{l19}{X3}
\clade{X1}{257}{l18}{X2}
\clade{X0}{234}{l17}{X1}
\clade{Y3}{206}{l16}{X0}
\clade{Y2}{179}{l15}{Y3}
\clade{Y1}{151}{l14}{Y2}
\clade{Y0}{128}{D1}{Y1}

% proteobacteria / actinobacteria block
\clade{P9}{375}{l28}{l29}
\clade{P13}{421}{l31}{l32}
\clade{P11}{401}{l30}{P13}
\clade{P12}{397}{l33}{l34}
\clade{P10}{369}{P11}{P12}
\clade{P8}{340}{P9}{P10}
\clade{P6}{318}{l27}{P8}
\clade{P16}{400}{l37}{l38}
\clade{P15}{375}{l36}{P16}
\clade{P14}{351}{l35}{P15}
\clade{P7}{317}{P14}{l39}
\clade{P4}{295}{P6}{P7}
\clade{P19}{358}{l40}{l41}
\clade{P17}{331}{P19}{l42}
\clade{P22}{373}{l44}{l45}
\clade{P20}{353}{l43}{P22}
\clade{P25}{402}{l47}{l48}
\clade{P23}{378}{l46}{P25}
\clade{P24}{371}{l49}{l50}
\clade{P21}{343}{P23}{P24}
\clade{P18}{321}{P20}{P21}
\clade{P5}{298}{P17}{P18}
\clade{P3}{275}{P4}{P5}
\clade{P2}{253}{l26}{P3}
\clade{P1}{229}{l25}{P2}
\clade{Q3}{215}{l51}{l52}
\clade{Q4}{228}{l53}{l54}
\clade{Q2}{173}{Q3}{Q4}
\clade{Q}{150}{P1}{Q2}

% middle block
\clade{M11}{348}{l58}{l59}
\clade{M9}{317}{l57}{M11}
\clade{M12}{345}{l61}{l62}
\clade{M10}{317}{l60}{M12}
\clade{M7}{293}{M9}{M10}
\clade{M14}{339}{l65}{l66}
\clade{M13}{310}{l64}{M14}
\clade{M8}{283}{l63}{M13}
\clade{M6}{260}{M7}{M8}
\clade{M5}{237}{l56}{M6}
\clade{M3}{212}{l55}{M5}
\clade{M23}{316}{l67}{l68}
\clade{M27}{400}{l71}{l72}
\clade{M26}{378}{M27}{l73}
\clade{M25}{351}{l70}{M26}
\clade{M24}{310}{l69}{M25}
\clade{M21}{286}{M23}{M24}
\clade{M30}{341}{l74}{l75}
\clade{M32}{386}{l76}{l77}
\clade{M34}{394}{l78}{l79}
\clade{M39}{461}{l82}{l83}
\clade{M38}{440}{l81}{M39}
\clade{M36}{420}{l80}{M38}
\clade{M40}{446}{l84}{l85}
\clade{M37}{407}{M40}{l86}
\clade{M35}{385}{M36}{M37}
\clade{M33}{363}{M34}{M35}
\clade{M31}{341}{M32}{M33}
\clade{M28}{310}{M30}{M31}
\clade{M29}{312}{l87}{l88}
\clade{M22}{287}{M28}{M29}
\clade{M19}{261}{M21}{M22}
\clade{M49}{478}{l92}{l93}
\clade{M47}{443}{l91}{M49}
\clade{M52}{480}{l94}{l95}
\clade{M55}{526}{l98}{l99}
\clade{M54}{505}{l97}{M55}
\clade{M53}{481}{l96}{M54}
\clade{M50}{454}{M52}{M53}
\clade{M58}{493}{l101}{l102}
\clade{M56}{472}{l100}{M58}
\clade{M61}{534}{l106}{l107}
\clade{M60}{510}{l105}{M61}
\clade{M59}{485}{l104}{M60}
\clade{M57}{460}{l103}{M59}
\clade{M51}{438}{M56}{M57}
\clade{M48}{416}{M50}{M51}
\clade{M45}{390}{M47}{M48}
\clade{M63}{469}{l109}{l110}
\clade{M65}{470}{l112}{l113}
\clade{M64}{438}{l111}{M65}
\clade{M62}{416}{M63}{M64}
\clade{M46}{393}{l108}{M62}
\clade{M44}{364}{M45}{M46}
\clade{M42}{335}{l90}{M44}
\clade{M68}{415}{l115}{l116}
\clade{M66}{373}{l114}{M68}
\clade{M71}{435}{l117}{l118}
\clade{M73}{468}{l119}{l120}
\clade{M77}{507}{l122}{l123}
\clade{M75}{483}{l121}{M77}
\clade{M78}{507}{l124}{l125}
\clade{M80}{523}{l127}{l128}
\clade{M79}{500}{l126}{M80}
\clade{M76}{478}{M78}{M79}
\clade{M74}{451}{M75}{M76}
\clade{M72}{427}{M73}{M74}
\clade{M69}{398}{M71}{M72}
\clade{M83}{462}{l130}{l131}
\clade{M81}{435}{l129}{M83}
\clade{M85}{478}{l133}{l134}
\clade{M86}{479}{l135}{l136}
\clade{M84}{456}{M85}{M86}
\clade{M82}{432}{l132}{M84}
\clade{M70}{387}{M81}{M82}
\clade{M67}{354}{M69}{M70}
\clade{M43}{330}{M66}{M67}
\clade{M41}{302}{M42}{M43}
\clade{M20}{258}{l89}{M41}
\clade{M15}{230}{M19}{M20}
\clade{M17}{349}{l138}{l139}
\clade{M16}{330}{l137}{M17}
\clade{M4}{206}{M15}{M16}
\clade{M1}{184}{M3}{M4}
\clade{M18}{232}{l141}{l142}
\clade{M2}{209}{l140}{M18}
\clade{R2}{150}{M1}{M2}
\clade{R}{128}{Q}{R2}
\clade{Z}{105}{Y0}{R}
\clade{T4}{199}{l145}{l147}
\draw[branch] (T4.east) |- (l146.west);
\clade{T3}{152}{T4}{l148}
\clade{T2}{127}{l144}{T3}
\clade{T}{104}{l143}{T2}
\clade{S}{82}{Z}{T}
\clade{W}{62}{C1}{S}

% lower block
\clade{V10}{240}{l152}{l153}
\clade{V9}{222}{V10}{l154}
\clade{V7}{181}{l151}{V9}
\clade{V11}{205}{l155}{l156}
\clade{V13}{236}{l157}{l158}
\clade{V14}{228}{l159}{l160}
\clade{V12}{205}{V13}{V14}
\clade{V8}{181}{V11}{V12}
\clade{V5}{158}{V7}{V8}
\clade{V15}{196}{l161}{l162}
\clade{V16}{199}{l163}{l164}
\clade{V6}{158}{V15}{V16}
\clade{V4}{138}{V5}{V6}
\clade{V3}{114}{l150}{V4}
\clade{V1}{82}{l149}{V3}
\clade{V19}{128}{l166}{l167}
\clade{V17}{103}{l165}{V19}
\clade{V23}{198}{l170}{l171}
\clade{V22}{175}{l169}{V23}
\clade{V20}{138}{l168}{V22}
\clade{V21}{128}{l172}{l173}
\clade{V18}{103}{V20}{V21}
\clade{V2}{82}{V17}{V18}
\clade{U2}{60}{V1}{V2}
\clade{U}{37}{W}{U2}

\clade{K4}{130}{l176}{l177}
\clade{K3}{101}{l175}{K4}
\clade{K1}{76}{l174}{K3}
\clade{K12}{193}{l179}{l180}
\clade{K17}{263}{l182}{l183}
\clade{K21}{318}{l187}{l188}
\clade{K20}{297}{l186}{K21}
\clade{K19}{273}{l185}{K20}
\clade{K18}{252}{l184}{K19}
\clade{K15}{232}{K17}{K18}
\clade{K22}{258}{l190}{l191}
\clade{K16}{228}{l189}{K22}
\clade{K14}{207}{K15}{K16}
\clade{K13}{185}{l181}{K14}
\clade{K10}{163}{K12}{K13}
\clade{K27}{255}{l195}{l196}
\clade{K25}{236}{l194}{K27}
\clade{K30}{297}{l200}{l201}
\clade{K29}{278}{l199}{K30}
\clade{K28}{258}{l198}{K29}
\clade{K26}{239}{l197}{K28}
\clade{K24}{207}{K25}{K26}
\clade{K23}{184}{l193}{K24}
\clade{K11}{158}{l192}{K23}
\clade{K9}{137}{K10}{K11}
\clade{K7}{110}{l178}{K9}
\clade{K33}{190}{l205}{l206}
\clade{K32}{167}{l204}{K33}
\clade{K31}{136}{l203}{K32}
\clade{K8}{108}{l202}{K31}
\clade{K5}{84}{K7}{K8}
\clade{K34}{136}{l207}{l208}
\clade{K36}{140}{l209}{l210}
\clade{K40}{199}{l211}{l212}
\clade{K38}{166}{K40}{l213}
\clade{K44}{262}{l216}{l217}
\clade{K43}{241}{l215}{K44}
\clade{K42}{222}{l214}{K43}
\clade{K41}{183}{K42}{l218}
\clade{K39}{162}{K41}{l219}
\clade{K37}{140}{K38}{K39}
\clade{K35}{118}{K36}{K37}
\clade{K6}{85}{K34}{K35}
\clade{K2}{60}{K5}{K6}
\clade{RT3}{38}{K1}{K2}
\clade{RT2}{16}{U}{RT3}
\clade[hiddendot]{root}{-6}{Na}{RT2}
\draw[branch] (root.east) |- (Nb.west);

% scale bar
\coordinate (sb0) at (0,219.66);
\coordinate (sb1) at (48,219.66);
\draw[branch] (sb0) -- (sb1);
\draw[branch] ([yshift=0.2cm]sb0) -- ([yshift=-0.2cm]sb0);
\draw[branch] ([yshift=0.2cm]sb1) -- ([yshift=-0.2cm]sb1);
\node[scalelabel] (sblabel) at (0,220.03) {1.03635};
\end{tikzpicture}
\end{document}
